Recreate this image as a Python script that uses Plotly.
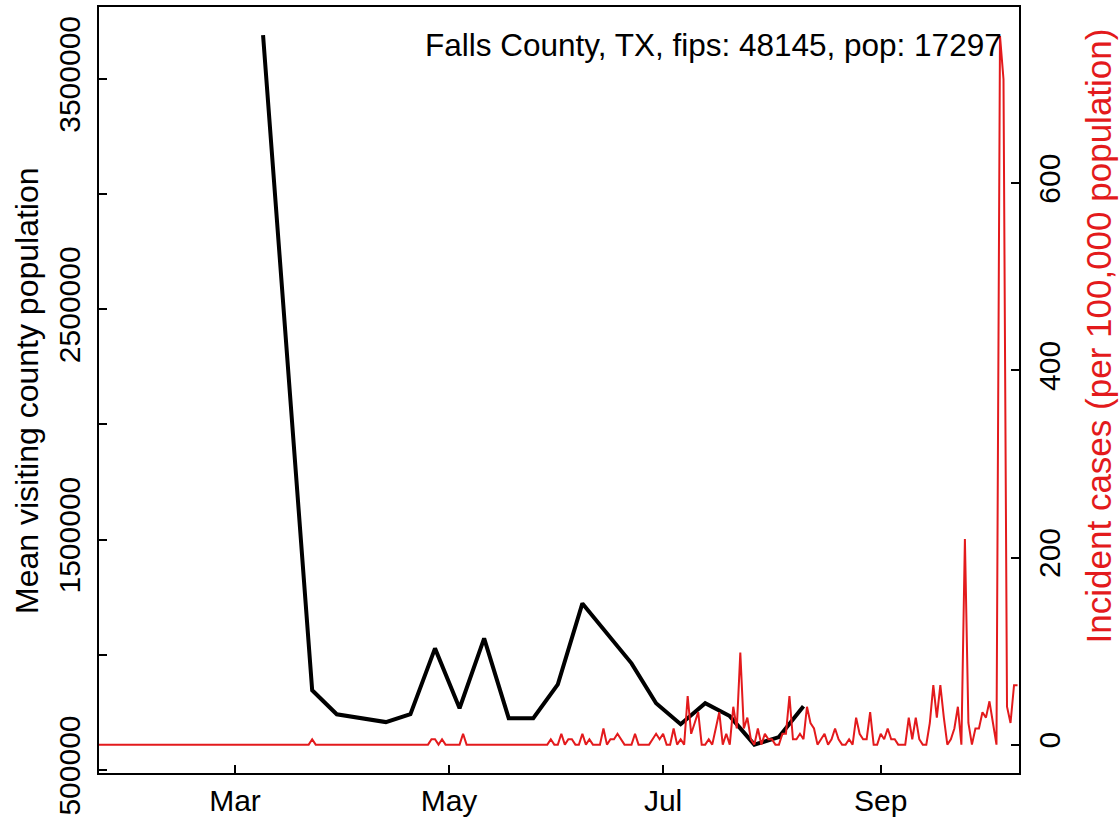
# Falls County, TX: mobilidade (preto) x casos incidentes (vermelho)
import plotly.graph_objects as go
import pandas as pd

# 1. Dados - média da população visitante (semanal)
visit_dates = ["2020-03-09", "2020-03-23", "2020-03-30", "2020-04-13", "2020-04-20",
               "2020-04-27", "2020-05-04", "2020-05-11", "2020-05-18", "2020-05-25",
               "2020-06-01", "2020-06-08", "2020-06-22", "2020-06-29", "2020-07-06",
               "2020-07-13", "2020-07-20", "2020-07-27", "2020-08-03", "2020-08-10"]
visit_pop = [3690000, 846000, 742000, 708000, 742000,
             1028000, 768000, 1071000, 725000, 725000,
             872000, 1223000, 963000, 790000, 699000,
             790000, 734000, 610000, 643000, 777000]

# 2. Dados - casos incidentes por 100.000 hab. (diários, 22/jan a 10/out)
cases_jan = [0, 0, 0, 0, 0, 0, 0, 0, 0, 0]
cases_feb = [0, 0, 0, 0, 0, 0, 0, 0, 0, 0, 0, 0, 0, 0, 0, 0, 0, 0, 0, 0,
             0, 0, 0, 0, 0, 0, 0, 0, 0]
cases_mar = [0, 0, 0, 0, 0, 0, 0, 0, 0, 0, 0, 0, 0, 0, 0, 0, 0, 0, 0, 0,
             0, 0, 5.8, 0, 0, 0, 0, 0, 0, 0, 0]
cases_apr = [0, 0, 0, 0, 0, 0, 0, 0, 0, 0, 0, 0, 0, 0, 0, 0, 0, 0, 0, 0,
             0, 0, 0, 0, 0, 5.8, 5.8, 0, 5.8, 0]
cases_may = [0, 0, 0, 0, 11.6, 0, 0, 0, 0, 0, 0, 0, 0, 0, 0, 0, 0, 0, 0, 0,
             0, 0, 0, 0, 0, 0, 0, 0, 0, 5.8, 0]
cases_jun = [0, 11.6, 0, 5.8, 5.8, 0, 0, 11.6, 0, 5.8, 0, 0, 0, 17.3, 0, 5.8,
             5.8, 11.6, 5.8, 0, 0, 0, 11.6, 0, 0, 0, 0, 5.8, 11.6, 5.8]
cases_jul = [11.6, 0, 0, 17.3, 0, 5.8, 0, 52.0, 11.6, 23.1, 34.7, 0, 0, 5.8, 0, 17.3,
             34.7, 0, 11.6, 0, 40.5, 17.3, 98.3, 17.3, 28.9, 5.8, 0, 17.3, 0, 11.6, 5.8]
cases_aug = [5.8, 0, 0, 11.6, 11.6, 52.0, 5.8, 5.8, 11.6, 5.8, 40.5, 23.1, 17.3, 0, 5.8, 11.6,
             0, 5.8, 17.3, 5.8, 0, 0, 5.8, 0, 28.9, 11.6, 5.8, 5.8, 34.7, 0, 0]
cases_sep = [11.6, 5.8, 17.3, 5.8, 5.8, 0, 0, 0, 28.9, 5.8, 28.9, 5.8, 0, 0, 23.1,
             63.6, 28.9, 63.6, 28.9, 0, 5.8, 17.3, 40.5, 0, 219.7, 23.1, 0, 17.3, 17.3, 34.7]
cases_oct = [28.9, 46.3, 23.1, 0, 757.4, 711.1, 40.5, 23.1, 63.6, 63.6]

cases = (cases_jan + cases_feb + cases_mar + cases_apr + cases_may +
         cases_jun + cases_jul + cases_aug + cases_sep + cases_oct)
case_dates = pd.date_range("2020-01-22", "2020-10-10", freq="D")

# 3. Ticks
x_ticks = ["2020-03-01", "2020-05-01", "2020-07-01", "2020-09-01"]
x_labels = ["Mar", "May", "Jul", "Sep"]
y_ticks = [500000, 1000000, 1500000, 2000000, 2500000, 3000000, 3500000]
y_labels = ["500000", "", "1500000", "", "2500000", "", "3500000"]
y2_ticks = [0, 200, 400, 600]

vermelho = "#E31A1C"
fonte = "Liberation Sans, Arial, sans-serif"

# 4. Figura
fig = go.Figure()
fig.add_trace(go.Scatter(
    x=case_dates, y=cases, mode="lines", yaxis="y2",
    line=dict(color=vermelho, width=2), showlegend=False,
))
fig.add_trace(go.Scatter(
    x=visit_dates, y=visit_pop, mode="lines",
    line=dict(color="black", width=4), showlegend=False,
))

# 5. Layout
fig.update_layout(
    width=1119, height=826,
    margin=dict(l=99, r=100, t=5, b=53),
    plot_bgcolor="white", paper_bgcolor="white",
    font=dict(family=fonte, size=30, color="black"),
    xaxis=dict(
        range=["2020-01-22 06:00", "2020-10-10 10:00"],
        tickvals=x_ticks, ticktext=x_labels,
        ticks="inside", ticklen=8, tickwidth=1.5, tickcolor="black",
        showline=True, linecolor="black", linewidth=2, mirror=True,
        showgrid=False, zeroline=False, ticklabelstandoff=0,
    ),
    yaxis=dict(
        range=[487000, 3812000],
        tickvals=y_ticks, ticktext=y_labels, tickangle=-90,
        ticks="inside", ticklen=8, tickwidth=1.5, tickcolor="black",
        showline=True, linecolor="black", linewidth=2, mirror=True,
        showgrid=False, zeroline=False, ticklabelstandoff=5,
    ),
    yaxis2=dict(
        range=[-30.3, 788.3], overlaying="y", side="right",
        tickvals=y2_ticks, tickangle=-90,
        ticks="inside", ticklen=8, tickwidth=1.5, tickcolor="black",
        showline=False, showgrid=False, zeroline=False, ticklabelstandoff=10,
    ),
    annotations=[
        dict(text="Falls County, TX, fips: 48145, pop: 17297",
             xref="paper", yref="paper", x=0.984, y=0.95,
             xanchor="right", yanchor="middle", showarrow=False,
             font=dict(size=31.5)),
        dict(text="Mean visiting county population",
             xref="paper", yref="paper", x=-0.0783, y=0.5, textangle=-90,
             xanchor="center", yanchor="middle", showarrow=False,
             font=dict(size=32)),
        dict(text="Incident cases (per 100,000 population)",
             xref="paper", yref="paper", x=1.0859, y=0.57, textangle=-90,
             xanchor="center", yanchor="middle", showarrow=False,
             font=dict(size=35, color=vermelho)),
    ],
)

# 6. Salvando (sem a margem padrão do body e sem a barra de ferramentas)
fig.write_html("out.html", config={"displayModeBar": False},
               post_script="document.body.style.margin='0';")
